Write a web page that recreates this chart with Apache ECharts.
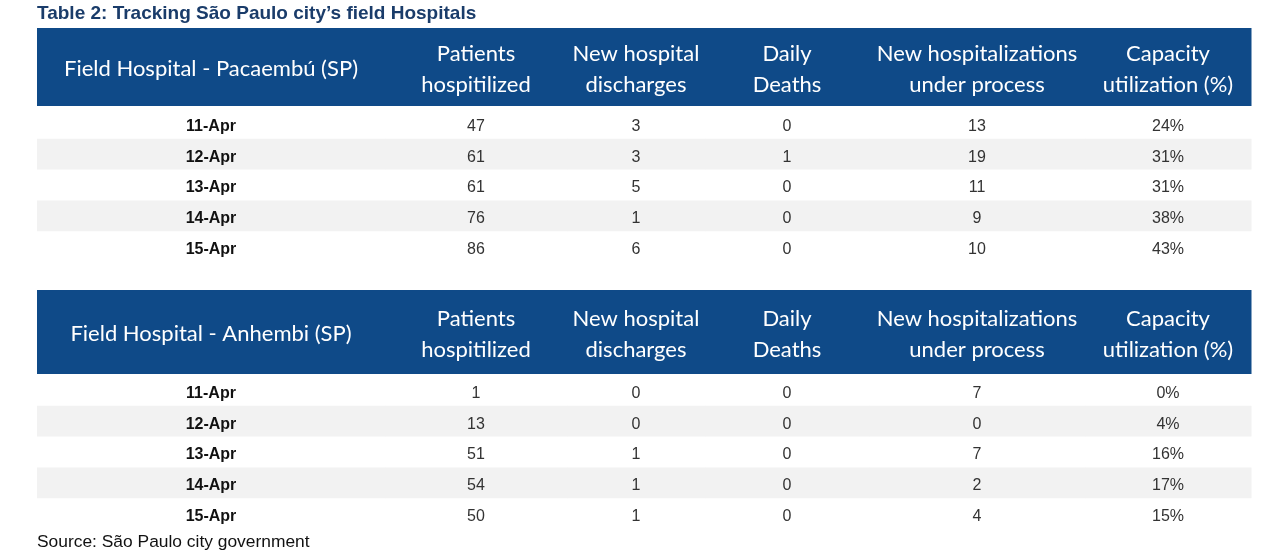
<!DOCTYPE html>
<html><head><meta charset="utf-8">
<script src="https://cdn.jsdelivr.net/npm/echarts@6/dist/echarts.min.js"></script>
<style>html,body{margin:0;padding:0;background:#fff}#c{width:1280px;height:555px}</style>
</head><body><div id="c"></div>
<script>
// ---- data ----
var dates = ['11-Apr', '12-Apr', '13-Apr', '14-Apr', '15-Apr'];
var columnHeaders = ['Patients\nhospitilized', 'New hospital\ndischarges', 'Daily\nDeaths', 'New hospitalizations\nunder process', 'Capacity\nutilization (%)'];
var pacaembuTitle = 'Field Hospital - Pacaembú (SP)';
var pacaembuPatients = [47, 61, 61, 76, 86];
var pacaembuDischarges = [3, 3, 5, 1, 6];
var pacaembuDeaths = [0, 1, 0, 0, 0];
var pacaembuNewHosp = [13, 19, 11, 9, 10];
var pacaembuCapacity = [24, 31, 31, 38, 43];
var anhembiTitle = 'Field Hospital - Anhembi (SP)';
var anhembiPatients = [1, 13, 51, 54, 50];
var anhembiDischarges = [0, 0, 1, 1, 1];
var anhembiDeaths = [0, 0, 0, 0, 0];
var anhembiNewHosp = [7, 0, 7, 2, 4];
var anhembiCapacity = [0, 4, 16, 17, 15];

// ---- layout (not data) ----
var colWidths = [348, 182, 138, 164, 216, 166];
var colEdges = [0];
colWidths.forEach(function (w, i) { colEdges.push(colEdges[i] + w); });
var totalW = colEdges[colEdges.length - 1];
var HEADER_BG = '#0f4a88';
var STRIPE = '#f2f2f2';

function bodyData(cols) {
  var out = [];
  dates.forEach(function (d, r) {
    out.push([0, r, d]);
    cols.forEach(function (arr, c) {
      var v = arr[r];
      out.push([c + 1, r, c === 4 ? v + '%' : String(v)]);
    });
  });
  return out;
}
function headerData(first) {
  var out = [[0, 0, first]];
  columnHeaders.forEach(function (h, c) { out.push([c + 1, 0, h]); });
  return out;
}

function renderBody(params, api) {
  var col = api.value(0), row = api.value(1);
  var item = this.dataRef[params.dataIndex];
  var p0 = api.coord([colEdges[col], row]);
  var p1 = api.coord([colEdges[col + 1], row]);
  var bh = api.size([0, 1])[1];
  var children = [];
  if (row % 2 === 1) {
    children.push({ type: 'rect', shape: { x: p0[0], y: p0[1] - bh / 2, width: p1[0] - p0[0] + 0.5, height: bh }, style: { fill: STRIPE } });
  }
  children.push({
    type: 'text',
    style: {
      x: (p0[0] + p1[0]) / 2, y: p0[1] + 3, text: item[2],
      align: 'center', verticalAlign: 'middle',
      font: (col === 0 ? 'bold ' : '') + '16px "Liberation Sans", Arial, sans-serif',
      fill: col === 0 ? '#111' : '#333'
    }
  });
  return { type: 'group', children: children };
}
function renderHeader(params, api) {
  var col = api.value(0);
  var item = this.dataRef[params.dataIndex];
  var p0 = api.coord([colEdges[col], 0]);
  var p1 = api.coord([colEdges[col + 1], 0]);
  var bh = api.size([0, 1])[1];
  return {
    type: 'group', children: [
      { type: 'rect', shape: { x: p0[0], y: p0[1] - bh / 2, width: p1[0] - p0[0] + 0.5, height: bh }, style: { fill: HEADER_BG } },
      { type: 'text', style: { x: (p0[0] + p1[0]) / 2, y: p0[1] + 2, text: item[2], align: 'center', verticalAlign: 'middle', lineHeight: 31, font: '22px Lato, sans-serif', fill: '#fff' } }
    ]
  };
}

function mkSeries(kind, idx, data) {
  var ctx = { dataRef: data };
  return {
    type: 'custom', xAxisIndex: idx, yAxisIndex: idx, silent: true,
    renderItem: (kind === 'h' ? renderHeader : renderBody).bind(ctx),
    data: data, encode: { x: 0, y: 1 }, clip: false
  };
}

var grids = [
  { left: 37, width: 1214, top: 28, height: 78 },
  { left: 37, width: 1214, top: 108, height: 154 },
  { left: 37, width: 1214, top: 290, height: 84 },
  { left: 37, width: 1214, top: 375, height: 154 }
];
var xAxes = grids.map(function (g, i) { return { type: 'value', gridIndex: i, min: 0, max: totalW, show: false }; });
var yAxes = grids.map(function (g, i) {
  return { type: 'category', gridIndex: i, inverse: true, show: false, data: (i % 2 === 0) ? ['h'] : dates };
});

var chart = echarts.init(document.getElementById('c'), null, { renderer: 'canvas' });
chart.setOption({
  animation: false,
  backgroundColor: '#fff',
  title: [
    { text: 'Table 2: Tracking São Paulo city’s field Hospitals', left: 37, top: 4, padding: 0,
      textStyle: { fontFamily: '"Liberation Sans", Arial, sans-serif', fontWeight: 'bold', fontSize: 19, color: '#1a3c6a' } },
    { text: 'Source: São Paulo city government', left: 37, top: 534, padding: 0,
      textStyle: { fontFamily: '"Liberation Sans", Arial, sans-serif', fontWeight: 'normal', fontSize: 17.4, color: '#111' } }
  ],
  grid: grids,
  xAxis: xAxes,
  yAxis: yAxes,
  series: [
    mkSeries('h', 0, headerData(pacaembuTitle)),
    mkSeries('b', 1, bodyData([pacaembuPatients, pacaembuDischarges, pacaembuDeaths, pacaembuNewHosp, pacaembuCapacity])),
    mkSeries('h', 2, headerData(anhembiTitle)),
    mkSeries('b', 3, bodyData([anhembiPatients, anhembiDischarges, anhembiDeaths, anhembiNewHosp, anhembiCapacity]))
  ]
});
</script></body></html>
